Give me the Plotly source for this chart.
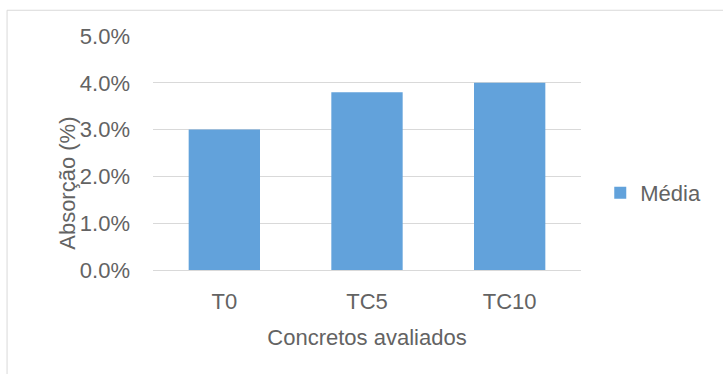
import plotly.graph_objects as go

# Water absorption of the evaluated concretes
categorias = ["T0", "TC5", "TC10"]
media = [0.030, 0.038, 0.040]
ticks_y = [0.0, 0.01, 0.02, 0.03, 0.04, 0.05]
ticks_y_txt = ["0.0%", "1.0%", "2.0%", "3.0%", "4.0%", "5.0%"]

FONT = "Liberation Sans, Arial, sans-serif"
TXT = "#636363"

fig = go.Figure(
    go.Bar(
        x=categorias,
        y=media,
        name="Média",
        marker=dict(color="#62a2db", line=dict(width=0)),
    )
)

fig.update_layout(
    width=723,
    height=374,
    margin=dict(l=153, r=142, t=36, b=104),
    paper_bgcolor="white",
    plot_bgcolor="white",
    bargap=0.5,
    font=dict(family=FONT, size=22, color=TXT),
    showlegend=True,
    legend=dict(
        x=1.045, y=0.329, xanchor="left", yanchor="middle",
        font=dict(family=FONT, size=22, color=TXT),
        itemwidth=30,
        bgcolor="rgba(0,0,0,0)",
    ),
    xaxis=dict(
        showgrid=False,
        showline=False,
        ticks="",
        ticklabelstandoff=16,
        tickfont=dict(size=22, color=TXT),
        title=dict(text="Concretos avaliados", font=dict(size=22, color=TXT), standoff=16),
    ),
    yaxis=dict(
        range=[0, 0.05],
        tickvals=ticks_y,
        ticktext=ticks_y_txt,
        showgrid=True,
        gridcolor="#d9d9d9",
        gridwidth=1,
        zeroline=True,
        zerolinecolor="#d9d9d9",
        zerolinewidth=1,
        showline=False,
        ticks="",
        ticklabelstandoff=22,
        tickfont=dict(size=22, color=TXT),
    ),
    annotations=[
        dict(
            text="Absorção (%)",
            xref="paper", yref="paper",
            x=-0.199, y=0.372,
            xanchor="center", yanchor="middle",
            textangle=-90,
            showarrow=False,
            font=dict(family=FONT, size=22, color=TXT),
        )
    ],
    shapes=[
        # chart frame
        dict(type="line", xref="paper", yref="paper",
             x0=-0.341, x1=1.4, y0=1.11, y1=1.11,
             line=dict(color="#d9d9d9", width=1)),
        dict(type="line", xref="paper", yref="paper",
             x0=-0.341, x1=-0.341, y0=1.11, y1=-0.5,
             line=dict(color="#d9d9d9", width=1)),
    ],
)

fig.write_html("out.html")
